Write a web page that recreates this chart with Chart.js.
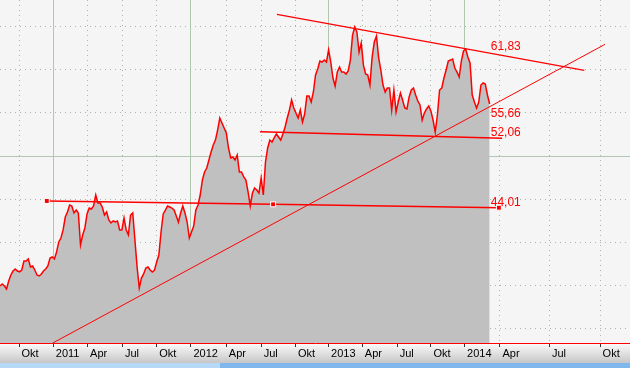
<!DOCTYPE html>
<html>
<head>
<meta charset="utf-8">
<script src="https://cdn.jsdelivr.net/npm/chart.js@4/dist/chart.umd.min.js"></script>
<style>
  html, body { margin: 0; padding: 0; background: #f5f5f5; }
</style>
</head>
<body>
<canvas id="chart" width="630" height="368"></canvas>
<script>
// x unit = trading-day bar (future part: one bar per calendar day)
const barStep = 4;

// closing prices, one value every 4 bars
const prices = [
  34.94, 35.17, 34.94, 34.59, 35.52, 36.21, 36.67, 36.91, 36.67, 36.56,
  36.79, 37.83, 37.83, 38.07, 37.14, 37.25, 36.79, 36.21, 36.10, 36.33,
  36.67, 36.91, 37.25, 38.18, 38.30, 38.07, 38.88, 40.04, 40.50, 41.43,
  42.93, 43.51, 44.32, 44.21, 43.40, 43.74, 43.40, 39.69, 40.85, 41.66,
  43.28, 43.97, 43.86, 44.21, 45.48, 44.55, 44.55, 44.09, 43.16, 43.51,
  42.58, 42.24, 42.47, 42.35, 42.47, 41.43, 41.43, 42.82, 41.43, 40.85,
  43.16, 43.40, 40.27, 37.14, 34.70, 35.86, 36.33, 37.02, 37.14, 36.79,
  36.56, 36.79, 37.72, 38.53, 41.19, 43.28, 43.74, 44.21, 44.09, 43.97,
  43.74, 43.05, 42.35, 43.40, 44.21, 43.40, 42.35, 40.50, 41.19, 41.89,
  43.74, 44.32, 45.48, 47.22, 48.15, 48.61, 49.54, 50.46, 51.27, 51.85,
  53.01, 54.40, 53.82, 53.24, 52.66, 50.93, 49.77, 49.88, 49.54, 50.12,
  48.15, 48.15, 47.57, 47.22, 45.83, 44.21, 45.71, 46.29, 46.06, 45.71,
  47.45, 45.48, 49.30, 50.93, 51.85, 51.62, 52.09, 52.55, 52.20, 51.85,
  52.55, 53.36, 54.40, 55.33, 56.49, 55.56, 54.98, 54.40, 55.33, 53.94,
  54.87, 56.95, 56.95, 56.26, 57.42, 59.39, 60.08, 61.01, 60.89, 61.12,
  60.89, 62.30, 60.89, 59.04, 58.11, 59.73, 60.31, 59.73, 59.73, 59.50,
  59.85, 61.12, 64.02, 64.95, 64.37, 62.05, 63.09, 60.54, 59.50, 59.39,
  58.23, 61.47, 63.21, 63.90, 61.36, 59.96, 58.23, 57.42, 57.88, 57.88,
  55.33, 57.65, 55.10, 56.26, 57.30, 56.49, 55.56, 55.45, 56.84, 57.65,
  57.88, 57.07, 56.37, 55.91, 54.17, 54.98, 55.45, 55.79, 55.21, 54.17,
  52.78, 54.75, 57.65, 57.88, 59.04, 59.96, 61.01, 61.12, 61.24, 60.20,
  59.73, 59.15, 61.01, 62.17, 62.40, 61.47, 60.78, 57.07, 56.26, 55.56,
  56.26, 58.23, 58.46, 58.34, 57.07, 56.03
];

// axis ticks
const tickBars = [35, 98, 161, 225, 288, 351, 416, 480, 543, 604, 666, 730, 792, 854, 919, 1010, 1103];
const tickLabels = ['Okt', '2011', 'Apr', 'Jul', 'Okt', '2012', 'Apr', 'Jul', 'Okt', '2013', 'Apr', 'Jul', 'Okt', '2014', 'Apr', 'Jul', 'Okt'];
const yGrid = [30, 35, 40, 45, 50, 55, 60, 65];
const xMin = 0, xMax = 1158;
const yMin = 28.33, yMax = 68.08;

// drawn lines: [bar, price] end points
const resistanceLine = [[86, 44.79], [502, 44.40], [917, 44.01]];
const supportLine = [[478, 52.82], [923, 52.06]];
const upTrend = [[97, 28.33], [1112, 62.94]];
const downTrend = [[509, 66.42], [1074, 59.93]];

// value labels at the right end of the data
const labelBar = 902;
const labelValues = [61.83, 55.66, 52.06, 44.01];
const labelTexts = ['61,83', '55,66', '52,06', '44,01'];
const labelDy = [-4, 9.5, -2, -2];

const RED = '#ff0000';
const toPts = arr => arr.map(p => ({x: p[0], y: p[1]}));

const bgPlugin = {
    id: 'bg',
    beforeDraw(chart) {
        const c = chart.ctx;
        const a = chart.chartArea;
        c.save();
        c.fillStyle = '#f5f5f5';
        c.fillRect(0, 0, chart.width, chart.height);
        const g = c.createLinearGradient(0, a.bottom, 0, a.bottom + 20);
        g.addColorStop(0, '#fcfcfc');
        g.addColorStop(1, '#c6c6c6');
        c.fillStyle = g;
        c.fillRect(0, a.bottom, chart.width, 20);
        c.fillStyle = '#b6d9f7';
        c.fillRect(0, a.bottom + 20, 220, chart.height - a.bottom - 20);
        c.fillStyle = '#7fb6ec';
        c.fillRect(220, a.bottom + 20, chart.width - 220, chart.height - a.bottom - 20);
        c.restore();
    }
};

const labelPlugin = {
    id: 'valueLabels',
    afterDatasetsDraw(chart) {
        const c = chart.ctx;
        const xs = chart.scales.x, ys = chart.scales.y;
        c.save();
        c.font = '12px Arial';
        c.fillStyle = RED;
        c.textAlign = 'left';
        c.textBaseline = 'alphabetic';
        labelValues.forEach((v, i) => {
            c.fillText(labelTexts[i], xs.getPixelForValue(labelBar), ys.getPixelForValue(v) + labelDy[i]);
        });
        c.restore();
    }
};

const ctx = document.getElementById('chart').getContext('2d');
new Chart(ctx, {
    type: 'line',
    data: {
        datasets: [
            {
                data: prices.map((p, i) => ({x: i * barStep, y: p})),
                borderColor: RED,
                borderWidth: 1.5,
                backgroundColor: '#c0c0c0',
                fill: 'start',
                pointRadius: 0,
                tension: 0,
                order: 10
            },
            {
                data: toPts(resistanceLine),
                borderColor: RED,
                borderWidth: 1.5,
                pointStyle: 'rect',
                pointRadius: 3.5,
                pointBackgroundColor: RED,
                pointBorderColor: '#ffffff',
                pointBorderWidth: 1,
                fill: false,
                order: 1
            },
            { data: toPts(supportLine), borderColor: RED, borderWidth: 1.5, pointRadius: 0, fill: false, order: 1 },
            { data: toPts(upTrend), borderColor: RED, borderWidth: 1, pointRadius: 0, fill: false, order: 1 },
            { data: toPts(downTrend), borderColor: RED, borderWidth: 1.2, pointRadius: 0, fill: false, order: 1 }
        ]
    },
    options: {
        responsive: false,
        animation: false,
        devicePixelRatio: 1,
        layout: { padding: 0, autoPadding: false },
        plugins: { legend: { display: false }, tooltip: { enabled: false } },
        scales: {
            x: {
                type: 'linear',
                min: xMin,
                max: xMax,
                afterBuildTicks: s => { s.ticks = tickBars.map(v => ({value: v})); },
                afterFit: s => { s.height = 25; },
                ticks: {
                    autoSkip: false,
                    maxRotation: 0,
                    align: 'start',
                    labelOffset: 2.5,
                    padding: 0,
                    color: '#000',
                    font: { family: 'Arial', size: 11 },
                    callback: (v, i) => tickLabels[i]
                },
                grid: {
                    color: c => (c.type === 'tick' && tickLabels[c.index].length === 4) ? '#b0c8b0' : '#a8b8a8',
                    lineWidth: 1,
                    tickLength: 4,
                    tickColor: '#333',
                    tickWidth: 1
                },
                border: {
                    display: true,
                    color: RED,
                    width: 1,
                    dash: c => (c.type === 'tick' && tickLabels[c.index].length !== 4) ? [1, 4] : []
                }
            },
            y: {
                type: 'linear',
                min: yMin,
                max: yMax,
                afterBuildTicks: s => { s.ticks = yGrid.map(v => ({value: v})); },
                afterFit: s => { s.width = 0; },
                ticks: { display: false },
                grid: {
                    drawTicks: false,
                    color: c => (c.type === 'tick' && c.tick.value === 50) ? '#b0c8b0' : '#a8b8a8'
                },
                border: {
                    display: false,
                    dash: c => (c.type === 'tick' && c.tick.value !== 50) ? [1, 4] : []
                }
            }
        }
    },
    plugins: [bgPlugin, labelPlugin]
});
</script>
</body>
</html>
